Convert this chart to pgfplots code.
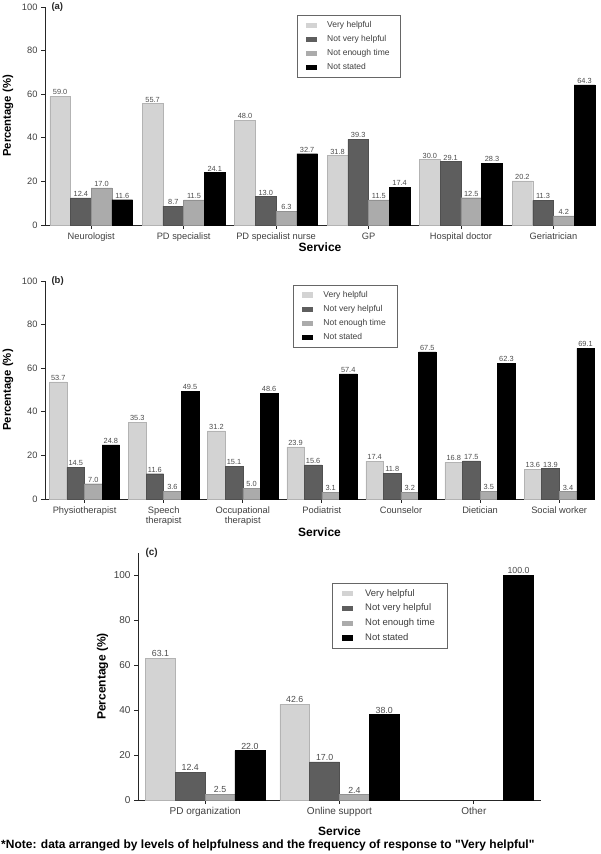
\documentclass[border=0pt]{standalone}
\usepackage{pgfplots}
\pgfplotsset{compat=1.18}
\usepackage{fontspec}
\setmainfont{Liberation Sans}[Ligatures=TeXOff]
\definecolor{cVH}{HTML}{D3D3D3}
\definecolor{cNVH}{HTML}{5E5E5E}
\definecolor{cNET}{HTML}{ABABAB}
\definecolor{cNS}{HTML}{000000}
\pgfplotsset{
  mybase/.style={
    ybar=0pt, scale only axis, axis lines=left,
    axis line style={-, black!85, line width=0.8pt},
    tick style={black!85, line width=0.8pt}, tick align=outside, major tick length=4pt,
    ymin=0, ytick={0,20,40,60,80,100},
    enlargelimits=false, clip=false,
    /pgf/number format/assume math mode=true,
    yticklabel style={font=\fontsize{9.3}{10}\selectfont, text=black!75},
    xticklabel style={font=\fontsize{9.3}{10}\selectfont, text=black!75, align=center},
    nodes near coords,
    nodes near coords style={/pgf/number format/.cd, fixed, fixed zerofill, precision=1, /tikz/.cd, text=black!70, inner sep=1.2pt, anchor=south},
    legend image code/.code={\fill[##1,draw=none] (0pt,-2.6pt) rectangle (11pt,2.6pt);},
    legend cell align=left,
  },
  vh/.style={fill=cVH, draw=cVH!85!black, line width=0.4pt},
  nvh/.style={fill=cNVH, draw=cNVH!85!black, line width=0.4pt},
  net/.style={fill=cNET, draw=cNET!85!black, line width=0.4pt},
  ns/.style={fill=cNS, draw=black, line width=0.4pt},
}
\begin{document}
\begin{tikzpicture}
\useasboundingbox (0pt,0pt) rectangle (601pt,854pt);
% ---------------- (a)
\begin{axis}[mybase, at={(45pt,629pt)}, anchor=south west, width=550pt, height=218pt,
  bar width=0.224, xmin=-0.5, xmax=5.45, ymax=100,
  xtick={0,1,2,3,4,5},
  xticklabels={Neurologist, PD specialist, PD specialist nurse, GP, Hospital doctor, Geriatrician},
  nodes near coords style={font=\fontsize{7.4}{8}\selectfont},
  legend style={at={(0.458,0.963)}, anchor=north west, draw=black!60, line width=0.6pt,
    font=\fontsize{8.5}{10}\selectfont, text=black!75, inner xsep=9pt, inner ysep=4pt, row sep=2.5pt,
    /tikz/every odd column/.append style={column sep=8pt}},
]
\addplot[vh] coordinates {(0,59.0) (1,55.7) (2,48.0) (3,31.8) (4,30.0) (5,20.2)};
\addplot[nvh] coordinates {(0,12.4) (1,8.7) (2,13.0) (3,39.3) (4,29.1) (5,11.3)};
\addplot[net] coordinates {(0,17.0) (1,11.5) (2,6.3) (3,11.5) (4,12.5) (5,4.2)};
\addplot[ns] coordinates {(0,11.6) (1,24.1) (2,32.7) (3,17.4) (4,28.3) (5,64.3)};
\legend{Very helpful, Not very helpful, Not enough time, Not stated}
\node[anchor=west, font=\bfseries\fontsize{9.5}{10}\selectfont, text=black!85] at (axis description cs:0,1) [xshift=3pt] {(a)};
\node[rotate=90, font=\bfseries\fontsize{11.3}{12}\selectfont] at ([xshift=-37pt]axis description cs:0,0.5) {Percentage (\%)};
\node[font=\bfseries\fontsize{12}{13}\selectfont] at ([yshift=-22pt]axis description cs:0.5,0) {Service};
\end{axis}
% ---------------- (b)
\begin{axis}[mybase, at={(45pt,355pt)}, anchor=south west, width=549pt, height=218pt,
  bar width=0.222, xmin=-0.5, xmax=6.44, ymax=100,
  xtick={0,1,2,3,4,5,6},
  xticklabels={Physiotherapist, {Speech\\therapist}, {Occupational\\therapist}, Podiatrist, Counselor, Dietician, Social worker},
  nodes near coords style={font=\fontsize{7.4}{8}\selectfont},
  legend style={at={(0.452,0.982)}, anchor=north west, draw=black!60, line width=0.6pt,
    font=\fontsize{8.5}{10}\selectfont, text=black!75, inner xsep=9pt, inner ysep=4pt, row sep=2.5pt,
    /tikz/every odd column/.append style={column sep=8pt}},
]
\addplot[vh] coordinates {(0,53.7) (1,35.3) (2,31.2) (3,23.9) (4,17.4) (5,16.8) (6,13.6)};
\addplot[nvh] coordinates {(0,14.5) (1,11.6) (2,15.1) (3,15.6) (4,11.8) (5,17.5) (6,13.9)};
\addplot[net] coordinates {(0,7.0) (1,3.6) (2,5.0) (3,3.1) (4,3.2) (5,3.5) (6,3.4)};
\addplot[ns] coordinates {(0,24.8) (1,49.5) (2,48.6) (3,57.4) (4,67.5) (5,62.3) (6,69.1)};
\legend{Very helpful, Not very helpful, Not enough time, Not stated}
\node[anchor=west, font=\bfseries\fontsize{9.5}{10}\selectfont, text=black!85] at (axis description cs:0,1) [xshift=3pt] {(b)};
\node[rotate=90, font=\bfseries\fontsize{11.3}{12}\selectfont] at ([xshift=-37pt]axis description cs:0,0.5) {Percentage (\%)};
\node[font=\bfseries\fontsize{12}{13}\selectfont] at ([yshift=-33pt]axis description cs:0.5,0) {Service};
\end{axis}
% ---------------- (c)
\begin{axis}[mybase, at={(138pt,54pt)}, anchor=south west, width=403pt, height=247pt,
  bar width=0.222, xmin=-0.5, xmax=2.5, ymax=110,
  xtick={0,1,2},
  xticklabels={PD organization, Online support, Other},
  xticklabel style={font=\fontsize{10}{11}\selectfont},
  yticklabel style={font=\fontsize{10}{11}\selectfont},
  nodes near coords style={font=\fontsize{8.8}{9}\selectfont},
  legend style={at={(0.481,0.879)}, anchor=north west, draw=black!60, line width=0.6pt,
    font=\fontsize{9.5}{11}\selectfont, text=black!75, inner xsep=10pt, inner ysep=4pt, row sep=2.5pt,
    /tikz/every odd column/.append style={column sep=10pt}},
]
\addplot[vh] coordinates {(0,63.1) (1,42.6)};
\addplot[nvh] coordinates {(0,12.4) (1,17.0)};
\addplot[net] coordinates {(0,2.5) (1,2.4)};
\addplot[ns] coordinates {(0,22.0) (1,38.0) (2,100.0)};
\legend{Very helpful, Not very helpful, Not enough time, Not stated}
\node[anchor=west, font=\bfseries\fontsize{10}{11}\selectfont, text=black!85] at (axis description cs:0,1) [xshift=4pt] {(c)};
\node[rotate=90, font=\bfseries\fontsize{12}{13}\selectfont] at ([xshift=-35.5pt]axis description cs:0,0.5) {Percentage (\%)};
\node[font=\bfseries\fontsize{12}{13}\selectfont] at ([yshift=-31pt]axis description cs:0.5,0) {Service};
\end{axis}
\node[anchor=west, inner sep=0pt, font=\bfseries\fontsize{12}{13}\selectfont] at (1pt,9pt) {*Note: data arranged by levels of helpfulness and the frequency of response to "Very helpful"};
\end{tikzpicture}
\end{document}
